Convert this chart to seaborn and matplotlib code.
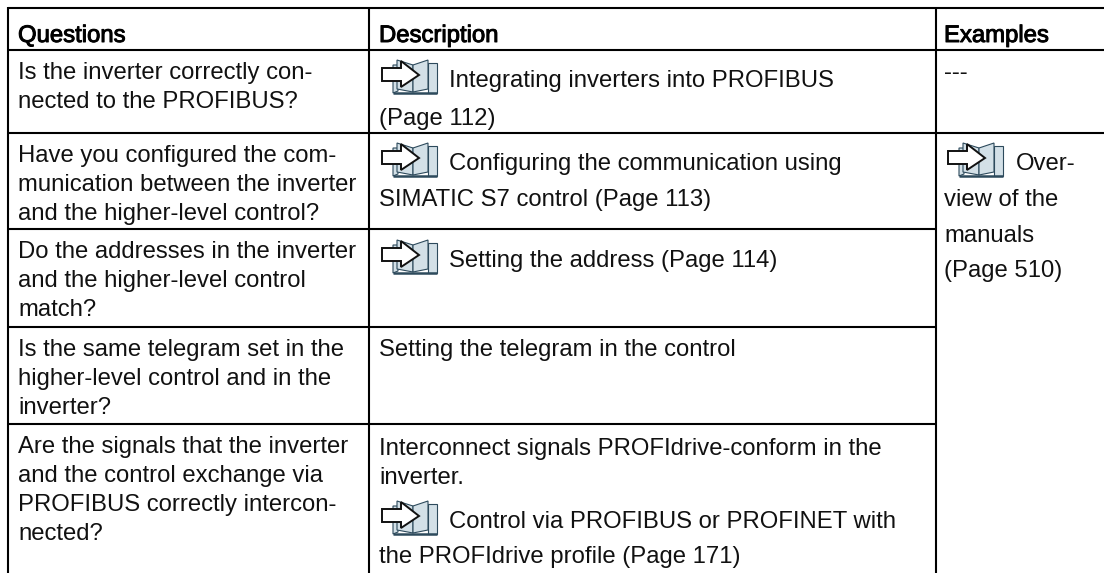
import matplotlib.pyplot as plt
import matplotlib.patheffects as pe
from matplotlib.patches import Polygon
import seaborn as sns

# header and body text of the table, one entry per drawn line
headers = ['Questions', 'Description', 'Examples']
question_lines = [
    'Is the inverter correctly con-', 'nected to the PROFIBUS?',
    'Have you configured the com-', 'munication between the inverter', 'and the higher-level control?',
    'Do the addresses in the inverter', 'and the higher-level control', 'match?',
    'Is the same telegram set in the', 'higher-level control and in the', 'inverter?',
    'Are the signals that the inverter', 'and the control exchange via', 'PROFIBUS correctly intercon-', 'nected?',
]
question_base = [79, 108, 162, 191, 220, 258, 287, 316, 356, 385, 414, 453, 482, 511, 540]
desc_lines = [
    'Integrating inverters into PROFIBUS', '(Page 112)',
    'Configuring the communication using', 'SIMATIC S7 control (Page 113)',
    'Setting the address (Page 114)',
    'Setting the telegram in the control',
    'Interconnect signals PROFIdrive-conform in the', 'inverter.',
    'Control via PROFIBUS or PROFINET with', 'the PROFIdrive profile (Page 171)',
]
desc_x = [449, 379, 449, 379, 449, 379, 379, 379, 449, 379]
desc_base = [87, 125, 170, 206, 267, 356, 455, 484, 528, 563]
example_lines = ['---', 'Over-', 'view of the', 'manuals', '(Page 510)']
example_x = [944, 1016, 944, 944, 944]
example_base = [79, 170, 206, 242, 277]
icon_spots = [(381, 60), (381, 143), (381, 240), (381, 501), (947, 143)]

sns.set_theme(style='white')
plt.rcParams['font.family'] = ['Liberation Sans', 'DejaVu Sans']

fig = plt.figure(figsize=(11.04, 5.73), dpi=100)
ax = fig.add_axes([0, 0, 1, 1])
ax.set_xlim(0, 1104)
ax.set_ylim(573, 0)
ax.axis('off')
sns.despine(ax=ax, left=True, bottom=True)

# grid rules
lw = 1.5
for y in [8, 50, 133]:
    ax.plot([8, 1104], [y, y], color='black', lw=lw, solid_capstyle='butt')
for y in [229, 327, 424]:
    ax.plot([8, 936], [y, y], color='black', lw=lw, solid_capstyle='butt')
for x in [8, 369, 936]:
    ax.plot([x, x], [7, 573], color='black', lw=lw, solid_capstyle='butt')


def icon(x, y):
    dark = '#2d4a5c'
    page = '#d3e0e7'
    # stacked pages behind, then the open book, then the arrow
    ax.add_patch(Polygon([(x + 12, y + 5), (x + 17, y + 5), (x + 17, y + 31), (x + 12, y + 33)],
                         fc=page, ec=dark, lw=0.8, zorder=3))
    ax.add_patch(Polygon([(x + 16, y + 0), (x + 32, y + 5), (x + 32, y + 32), (x + 16, y + 29)],
                         fc=page, ec=dark, lw=0.8, zorder=3))
    ax.add_patch(Polygon([(x + 47, y + 3), (x + 56, y + 3), (x + 56, y + 33), (x + 47, y + 33)],
                         fc=page, ec=dark, lw=0.8, zorder=3))
    ax.add_patch(Polygon([(x + 32, y + 5), (x + 47, y + 0), (x + 47, y + 29), (x + 32, y + 32)],
                         fc=page, ec=dark, lw=0.8, zorder=3))
    ax.plot([x + 12, x + 56], [y + 33, y + 33], color=dark, lw=1.8, zorder=4, solid_capstyle='butt')
    ax.add_patch(Polygon([(x + 1, y + 8), (x + 20, y + 8), (x + 20, y + 1), (x + 38, y + 15),
                          (x + 20, y + 27), (x + 20, y + 21), (x + 1, y + 21)],
                         fc='white', ec='#111111', lw=1.4, zorder=5, joinstyle='miter'))


for spot in icon_spots:
    icon(*spot)

fs = 17.2
tc = '#111111'
header_x = [18, 379, 944]
for label, x in zip(headers, header_x):
    ax.text(x, 42, label, fontsize=fs, color='black', va='baseline', ha='left',
            path_effects=[pe.withStroke(linewidth=0.7, foreground='black')])
for label, y in zip(question_lines, question_base):
    ax.text(18, y, label, fontsize=fs, color=tc, va='baseline', ha='left')
for label, x, y in zip(desc_lines, desc_x, desc_base):
    ax.text(x, y, label, fontsize=fs, color=tc, va='baseline', ha='left')
for label, x, y in zip(example_lines, example_x, example_base):
    ax.text(x, y, label, fontsize=fs, color=tc, va='baseline', ha='left')

fig.savefig('out.png', dpi=100)
